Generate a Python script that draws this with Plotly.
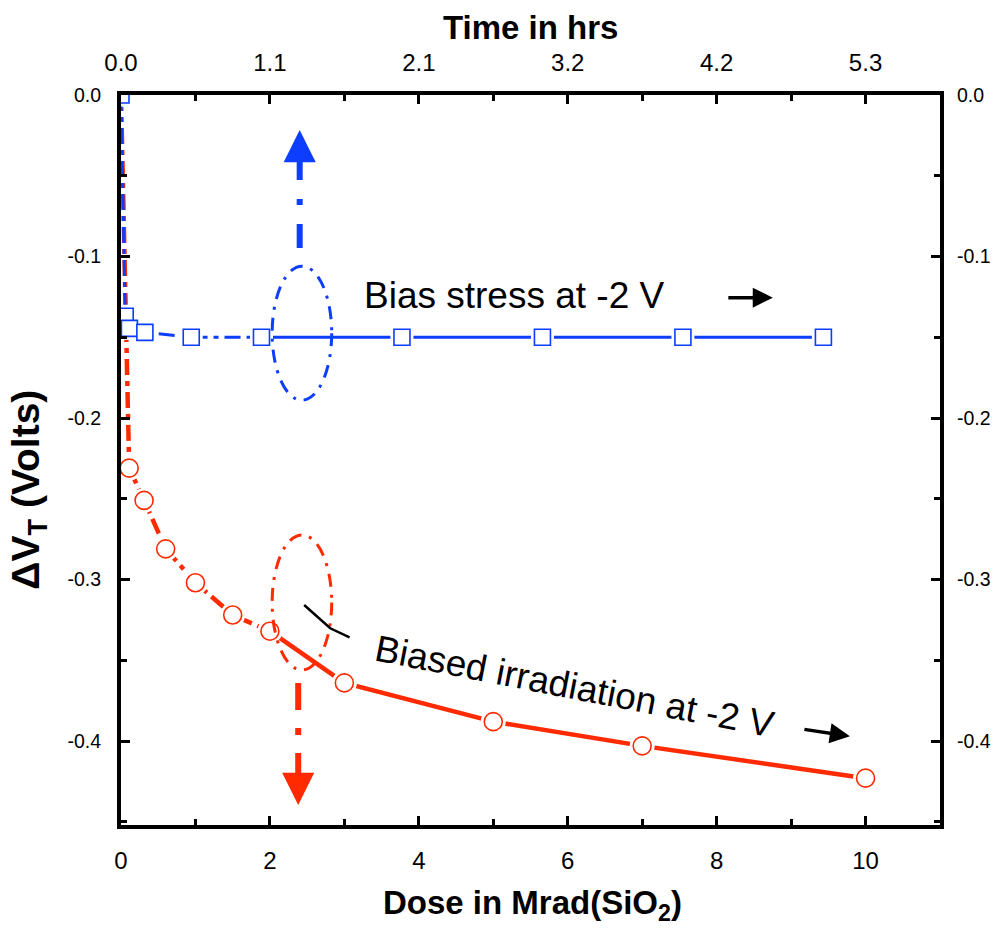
import plotly.graph_objects as go

# ---------------- data ----------------
dose_mrad = [0, 0.11, 0.31, 0.6, 1.0, 1.5, 2.0, 3.0, 5.0, 7.0, 10.0]
dvt_irrad = [0.0, -0.231, -0.251, -0.281, -0.302, -0.322, -0.332, -0.364, -0.388, -0.403, -0.423]

time_hrs = [0, 0.03, 0.06, 0.17, 0.5, 1, 2, 3, 4, 5]
dvt_bias = [0.0, -0.137, -0.1445, -0.147, -0.150, -0.150, -0.150, -0.150, -0.150, -0.150]

dose_ticks = [0, 2, 4, 6, 8, 10]
dose_tick_labels = ["0", "2", "4", "6", "8", "10"]
time_tick_labels = ["0.0", "1.1", "2.1", "3.2", "4.2", "5.3"]
dvt_ticks = [0.0, -0.1, -0.2, -0.3, -0.4]
dvt_tick_labels = ["0.0", "-0.1", "-0.2", "-0.3", "-0.4"]

hrs_per_mrad = 0.53
dose_range = [0, 11]
dvt_range = [-0.452, 0.0]

RED = "#ff2a00"
BLUE = "#0d3dff"
dashdot = "16px,6px,5px,6px"

red_split = 6   # dash-dot up to 2 Mrad, solid afterwards
blue_split = 5  # dash-dot up to 1 hr, solid afterwards

fig = go.Figure()

# lines
fig.add_trace(go.Scatter(x=dose_mrad[:red_split + 1], y=dvt_irrad[:red_split + 1], mode="lines",
                         line=dict(color=RED, width=4.5, dash=dashdot), xaxis="x", yaxis="y"))
fig.add_trace(go.Scatter(x=dose_mrad[red_split:], y=dvt_irrad[red_split:], mode="lines",
                         line=dict(color=RED, width=4.5), xaxis="x", yaxis="y"))
fig.add_trace(go.Scatter(x=time_hrs[:blue_split + 1], y=dvt_bias[:blue_split + 1], mode="lines",
                         line=dict(color=BLUE, width=3, dash=dashdot), xaxis="x2", yaxis="y"))
fig.add_trace(go.Scatter(x=time_hrs[blue_split:], y=dvt_bias[blue_split:], mode="lines",
                         line=dict(color=BLUE, width=3), xaxis="x2", yaxis="y"))

# white halos (gap between line and symbol)
fig.add_trace(go.Scatter(x=dose_mrad, y=dvt_irrad, mode="markers",
                         marker=dict(symbol="circle", size=25, color="white", line=dict(width=0)),
                         xaxis="x", yaxis="y"))
fig.add_trace(go.Scatter(x=time_hrs, y=dvt_bias, mode="markers",
                         marker=dict(symbol="square", size=23, color="white", line=dict(width=0)),
                         xaxis="x2", yaxis="y"))
# symbols
fig.add_trace(go.Scatter(x=dose_mrad, y=dvt_irrad, mode="markers",
                         marker=dict(symbol="circle", size=18, color="white", line=dict(color=RED, width=1.6)),
                         xaxis="x", yaxis="y"))
fig.add_trace(go.Scatter(x=time_hrs, y=dvt_bias, mode="markers",
                         marker=dict(symbol="square", size=16, color="white", line=dict(color=BLUE, width=1.6)),
                         xaxis="x2", yaxis="y"))
# invisible trace for the right axis
fig.add_trace(go.Scatter(x=[dose_range[0]], y=[dvt_range[0]], mode="markers", marker=dict(opacity=0),
                         xaxis="x", yaxis="y2", hoverinfo="skip"))

tickfont_x = dict(family="Liberation Sans Narrow, Liberation Sans, Arial", size=24, color="black")
tickfont_y = dict(family="Liberation Sans, Arial", size=19.5, color="black")
axis_common = dict(showline=True, linewidth=4, linecolor="black", ticks="inside", ticklen=9,
                   tickwidth=3, tickcolor="black", showgrid=False, zeroline=False, automargin=False)

fig.update_layout(
    width=994, height=938,
    margin=dict(l=121, r=54, t=95, b=113),
    paper_bgcolor="white", plot_bgcolor="white",
    showlegend=False,
    xaxis=dict(range=dose_range, tickmode="array", tickvals=dose_ticks, ticktext=dose_tick_labels,
               tickfont=tickfont_x, ticklabelstandoff=11,
               minor=dict(tickmode="linear", tick0=0, dtick=1, ticks="inside", ticklen=6,
                          tickwidth=3, tickcolor="black"),
               **axis_common),
    xaxis2=dict(range=[dose_range[0] * hrs_per_mrad, dose_range[1] * hrs_per_mrad], overlaying="x",
                side="top", tickmode="array", tickvals=[d * hrs_per_mrad for d in dose_ticks],
                ticktext=time_tick_labels, tickfont=tickfont_x, ticklabelstandoff=10,
                minor=dict(tickmode="linear", tick0=0, dtick=hrs_per_mrad, ticks="inside", ticklen=6,
                           tickwidth=3, tickcolor="black"),
                **axis_common),
    yaxis=dict(range=dvt_range, tickmode="array", tickvals=dvt_ticks, ticktext=dvt_tick_labels,
               tickfont=tickfont_y, ticklabelstandoff=12,
               minor=dict(tickmode="linear", tick0=0, dtick=0.05, ticks="inside", ticklen=6,
                          tickwidth=3, tickcolor="black"),
               **axis_common),
    yaxis2=dict(range=dvt_range, overlaying="y", side="right", matches="y", tickmode="array",
                tickvals=dvt_ticks, ticktext=dvt_tick_labels, tickfont=tickfont_y, ticklabelstandoff=9,
                minor=dict(tickmode="linear", tick0=0, dtick=0.05, ticks="inside", ticklen=6,
                           tickwidth=3, tickcolor="black"),
                **axis_common),
)

title_font = dict(family="Liberation Sans, Arial", size=33, color="black")
annots = [
    dict(text="<b>Time in hrs</b>", xref="paper", yref="paper", x=0.5, y=1.092, showarrow=False,
         font=title_font, xanchor="center", yanchor="middle"),
    dict(text="<b>Dose in Mrad(SiO<sub>2</sub>)</b>", xref="paper", yref="paper", x=0.502, y=-0.11,
         showarrow=False, font=title_font, xanchor="center", yanchor="middle"),
    dict(text="<b>ΔV<sub>T</sub> (Volts)</b>", xref="paper", yref="paper", x=-0.113, y=0.46,
         showarrow=False, font=dict(family="Liberation Sans, Arial", size=39, color="black"),
         textangle=-90, xanchor="center", yanchor="middle"),
    dict(text="Bias stress at -2 V", xref="x", yref="y", x=5.29, y=-0.1241, showarrow=False,
         font=dict(family="Liberation Sans, Arial", size=37, color="black")),
    dict(text="Biased irradiation at -2 V", xref="x", yref="y", x=6.09, y=-0.366, showarrow=False,
         textangle=11, font=dict(family="Liberation Sans, Arial", size=37, color="black")),
    # black arrows
    dict(text="", xref="x", yref="y", x=8.755, y=-0.1255, ax=-46, ay=0, showarrow=True,
         arrowhead=2, arrowwidth=3.5, arrowsize=1.15, arrowcolor="black"),
    dict(text="", xref="x", yref="y", x=9.79, y=-0.397, ax=-47, ay=-7, showarrow=True,
         arrowhead=2, arrowwidth=3.5, arrowsize=1.15, arrowcolor="black"),
    # coloured arrow heads
    dict(text="", xref="x", yref="y", x=2.40, y=-0.0217, ax=0, ay=30, showarrow=True,
         arrowhead=2, arrowwidth=6, arrowsize=1.07, arrowcolor=BLUE),
    dict(text="", xref="x", yref="y", x=2.38, y=-0.4396, ax=0, ay=-30, showarrow=True,
         arrowhead=2, arrowwidth=6, arrowsize=1.07, arrowcolor=RED),
]
fig.update_layout(annotations=annots)

shapes = [
    # blue ellipse and dashed shaft
    dict(type="circle", xref="x", yref="y", x0=2.03, x1=2.83, y0=-0.106, y1=-0.189,
         line=dict(color=BLUE, width=3, dash="13px,8px,3px,8px")),
    dict(type="line", xref="x", yref="y", x0=2.40, x1=2.40, y0=-0.0947, y1=-0.037,
         line=dict(color=BLUE, width=6, dash="24px,19px,6px,19px")),
    # red ellipse and dashed shaft
    dict(type="circle", xref="x", yref="y", x0=2.03, x1=2.83, y0=-0.2724, y1=-0.356,
         line=dict(color=RED, width=3, dash="13px,8px,3px,8px")),
    dict(type="line", xref="x", yref="y", x0=2.38, x1=2.38, y0=-0.3641, y1=-0.424,
         line=dict(color=RED, width=6, dash="27px,18px,7px,18px")),
    # black leader line
    dict(type="path", xref="x", yref="y", path="M2.46,-0.3158 L2.81,-0.3302 L3.07,-0.3358",
         line=dict(color="black", width=2.5)),
]
fig.update_layout(shapes=shapes)

fig.write_html("out.html")
